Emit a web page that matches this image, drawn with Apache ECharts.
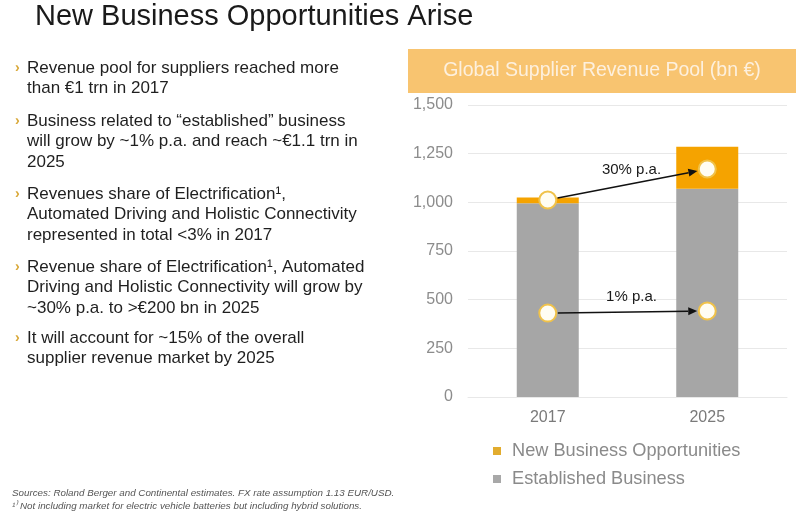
<!DOCTYPE html>
<html><head><meta charset="utf-8">
<script src="https://cdn.jsdelivr.net/npm/echarts@6/dist/echarts.min.js"></script>
<style>html,body{margin:0;padding:0;background:#fff}#c{width:800px;height:513px}</style>
</head><body><div id="c"></div>
<script>
const categories = ['2017', '2025'];
const established = [995, 1070];
const newBusiness = [30, 215];
const markerUpper = [1012, 1171];
const markerLower = [431, 442];
const growthUpper = '30% p.a.';
const growthLower = '1% p.a.';
const yTicks = [0, 250, 500, 750, 1000, 1250, 1500];
const seriesNames = ['New Business Opportunities', 'Established Business'];
const titleText = 'New Business Opportunities Arise';
const boxTitle = 'Global Supplier Revenue Pool (bn \u20ac)';
const bullets = [
  ['Revenue pool for suppliers reached more', 'than \u20ac1 trn in 2017'],
  ['Business related to \u201cestablished\u201d business', 'will grow by ~1% p.a. and reach ~\u20ac1.1 trn in', '2025'],
  ['Revenues share of Electrification\u00b9,', 'Automated Driving and Holistic Connectivity', 'represented in total <3% in 2017'],
  ['Revenue share of Electrification\u00b9, Automated', 'Driving and Holistic Connectivity will grow by', '~30% p.a. to >\u20ac200 bn in 2025'],
  ['It will account for ~15% of the overall', 'supplier revenue market by 2025']
];
const footnotes = [
  'Sources: Roland Berger and Continental estimates. FX rate assumption 1.13 EUR/USD.',
  '\u00b9\u207e Not including market for electric vehicle batteries but including hybrid solutions.'
];

const FONT = '"Liberation Sans", Arial, sans-serif';
const bulletStarts = [68, 121, 194, 267, 338];
const LH = 20.5;

const graphics = [];
graphics.push({type:'text', x: 35, y: 17, style:{text: titleText, font: '29px ' + FONT, fill:'#1a1a1a', textVerticalAlign:'middle'}});
bullets.forEach((b, i) => {
  graphics.push({type:'text', x: 15, y: bulletStarts[i], style:{text:'\u203a', font:'bold 14px ' + FONT, fill:'#d9a93a', textVerticalAlign:'middle'}});
  b.forEach((line, j) => {
    graphics.push({type:'text', x: 27, y: bulletStarts[i] + j * LH, style:{text: line, font: '17px ' + FONT, fill:'#1f1f1f', textVerticalAlign:'middle'}});
  });
});
footnotes.forEach((f, i) => {
  graphics.push({type:'text', x: 12, y: 493 + i * 13, style:{text: f, font: 'italic 9.8px ' + FONT, fill:'#555', textVerticalAlign:'middle'}});
});
graphics.push({type:'rect', shape:{x:408, y:49, width:388, height:44}, style:{fill:'#F8C470'}, z:-1});
graphics.push({type:'text', x: 602, y: 71, style:{text: boxTitle, font:'19.5px ' + FONT, fill:'#fdf0de', textAlign:'center', textVerticalAlign:'middle'}});

const arrows = [
  [0, markerUpper[0], 1, markerUpper[1], growthUpper],
  [0, markerLower[0], 1, markerLower[1], growthLower]
];

const chart = echarts.init(document.getElementById('c'));
chart.setOption({
  animation: false,
  backgroundColor: '#fff',
  graphic: graphics,
  grid: {left: 468, right: 13, top: 105, bottom: 116},
  legend: {
    orient: 'vertical', left: 488, top: 437, itemWidth: 8, itemHeight: 8, itemGap: 10,
    icon: 'rect', selectedMode: false,
    textStyle: {color: '#8a8a8a', fontSize: 18.2, fontFamily: FONT, padding: [0, 0, 0, 6]},
    data: [
      {name: seriesNames[0], itemStyle: {color: '#E2AC2E'}},
      {name: seriesNames[1], itemStyle: {color: '#A8A8A8'}}
    ]
  },
  xAxis: {
    type: 'category', data: categories,
    axisLine: {show: true, lineStyle: {color: '#e8e8e8'}}, axisTick: {show: false},
    axisLabel: {color: '#7a7a7a', fontSize: 16, fontFamily: FONT, margin: 13}
  },
  yAxis: {
    type: 'value', min: yTicks[0], max: yTicks[yTicks.length - 1], interval: 250,
    axisLine: {show: false}, axisTick: {show: false},
    splitLine: {lineStyle: {color: '#e8e8e8'}},
    axisLabel: {color: '#8c8c8c', fontSize: 16, fontFamily: FONT, margin: 15,
      formatter: v => v.toLocaleString('en-US')}
  },
  series: [
    {name: seriesNames[1], type: 'bar', stack: 'a', data: established, barWidth: 62,
     itemStyle: {color: '#A6A6A6'}},
    {name: seriesNames[0], type: 'bar', stack: 'a', data: newBusiness, barWidth: 62,
     itemStyle: {color: '#F5A300'}},
    {type: 'custom', data: arrows, z: 5, silent: true,
     renderItem: function (params, api) {
       const p0 = api.coord([api.value(0), api.value(1)]);
       const p1 = api.coord([api.value(2), api.value(3)]);
       const dx = p1[0] - p0[0], dy = p1[1] - p0[1];
       const len = Math.sqrt(dx * dx + dy * dy);
       const ux = dx / len, uy = dy / len;
       const r = 10;
       const s = [p0[0] + ux * r, p0[1] + uy * r];
       const e = [p1[0] - ux * r, p1[1] - uy * r];
       const ah = 9, aw = 4;
       const b = [e[0] - ux * ah, e[1] - uy * ah];
       const nx = -uy, ny = ux;
       const mid = [(p0[0] + p1[0]) / 2 + 4, (p0[1] + p1[1]) / 2];
       return {type: 'group', children: [
         {type: 'line', shape: {x1: s[0], y1: s[1], x2: b[0], y2: b[1]}, style: {stroke: '#111', lineWidth: 1.5}},
         {type: 'polygon', shape: {points: [e, [b[0] + nx * aw, b[1] + ny * aw], [b[0] - nx * aw, b[1] - ny * aw]]}, style: {fill: '#111'}},
         {type: 'text', x: mid[0], y: mid[1] - 15,
          style: {text: api.value(4), font: '15px ' + FONT, fill: '#1a1a1a', textAlign: 'center', textVerticalAlign: 'middle'}}
       ]};
     },
     encode: {x: [0, 2], y: [1, 3]}
    },
    {type: 'scatter', data: markerUpper, symbolSize: 17, z: 10, silent: true,
     itemStyle: {color: '#fffdf3', borderColor: '#f0c24a', borderWidth: 2, opacity: 1}},
    {type: 'scatter', data: markerLower, symbolSize: 17, z: 10, silent: true,
     itemStyle: {color: '#fffdf3', borderColor: '#f0c24a', borderWidth: 2, opacity: 1}}
  ]
});
</script></body></html>
